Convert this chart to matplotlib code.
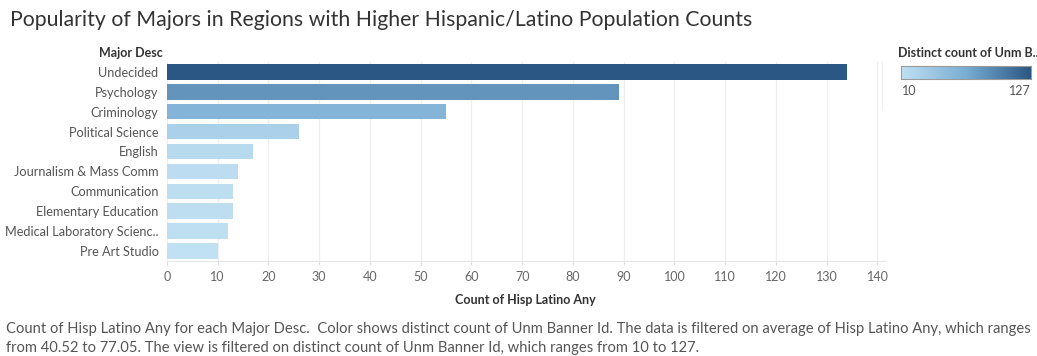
import numpy as np
import matplotlib
matplotlib.use("Agg")
import matplotlib.pyplot as plt
from matplotlib.colors import LinearSegmentedColormap, Normalize

plt.rcParams['font.family'] = ['Lato', 'DejaVu Sans']

# ------------------------------
# Data
# ------------------------------
majors = ["Undecided", "Psychology", "Criminology", "Political Science", "English",
          "Journalism & Mass Comm", "Communication", "Elementary Education",
          "Medical Laboratory Scienc..", "Pre Art Studio"]
counts = [134, 89, 55, 26, 17, 14, 13, 13, 12, 10]
distinct_ids = [127, 85, 60, 28, 17, 14, 13, 13, 12, 10]
ticks = list(range(0, 150, 10))

# Tableau-like sequential blue
cmap = LinearSegmentedColormap.from_list("tab_blue", ["#c0e0f3", "#7aadd3", "#2a5783"])
norm = Normalize(vmin=10, vmax=127)

TXT = "#555555"

fig = plt.figure(figsize=(10.37, 3.56), dpi=100)
fig.patch.set_facecolor("white")

ax = fig.add_axes([0.161, 0.267, 0.692, 0.559])
y = np.arange(len(majors))
ax.barh(y, counts, height=0.78, color=cmap(norm(np.array(distinct_ids))), zorder=3)
ax.set_ylim(len(majors) - 0.5, -0.5)
ax.set_xlim(0, 141.4)
ax.set_yticks(y)
ax.set_yticklabels(majors, fontsize=9.2, color=TXT)
ax.set_xticks(ticks)
ax.set_xticklabels([str(t) for t in ticks], fontsize=9, color="#666666")
ax.tick_params(axis='y', length=0, pad=6)
ax.tick_params(axis='x', length=3, color="#dddddd", pad=4)
ax.grid(axis='x', color="#eeeeee", lw=0.9, zorder=0)
for s in ("top", "right", "left"):
    ax.spines[s].set_visible(False)
ax.spines["bottom"].set_color("#e6e6e6")
ax.set_xlabel("Count of Hisp Latino Any", fontsize=9, fontweight='bold', color="#333333", labelpad=8)

# header for rows
fig.text(0.157, 0.851, "Major Desc", ha='right', va='center', fontsize=9,
         fontweight='bold', color="#333333")

# title
fig.text(0.0095, 0.945, "Popularity of Majors in Regions with Higher Hispanic/Latino Population Counts",
         ha='left', va='center', fontsize=15.3, color="#333333")

# colour legend
fig.add_artist(plt.Line2D([0.851, 0.851], [0.69, 0.83], color="#eeeeee", lw=0.8))
fig.text(0.866, 0.851, "Distinct count of Unm B..", ha='left', va='center', fontsize=9,
         fontweight='bold', color="#333333")
cax = fig.add_axes([0.869, 0.778, 0.125, 0.036])
grad = np.linspace(0, 1, 256).reshape(1, -1)
cax.imshow(grad, aspect='auto', cmap=cmap, extent=[0, 1, 0, 1])
cax.set_xticks([])
cax.set_yticks([])
for s in cax.spines.values():
    s.set_color("#9a9a9a")
    s.set_linewidth(0.8)
fig.text(0.870, 0.745, "10", ha='left', va='center', fontsize=9, color=TXT)
fig.text(0.994, 0.745, "127", ha='right', va='center', fontsize=9, color=TXT)

# caption
fig.text(0.006, 0.075,
         "Count of Hisp Latino Any for each Major Desc.  Color shows distinct count of Unm Banner Id. "
         "The data is filtered on average of Hisp Latino Any, which ranges",
         ha='left', va='center', fontsize=10.6, color=TXT)
fig.text(0.006, 0.023,
         "from 40.52 to 77.05. The view is filtered on distinct count of Unm Banner Id, which ranges from 10 to 127.",
         ha='left', va='center', fontsize=10.6, color=TXT)

fig.savefig("out.png", dpi=100)
